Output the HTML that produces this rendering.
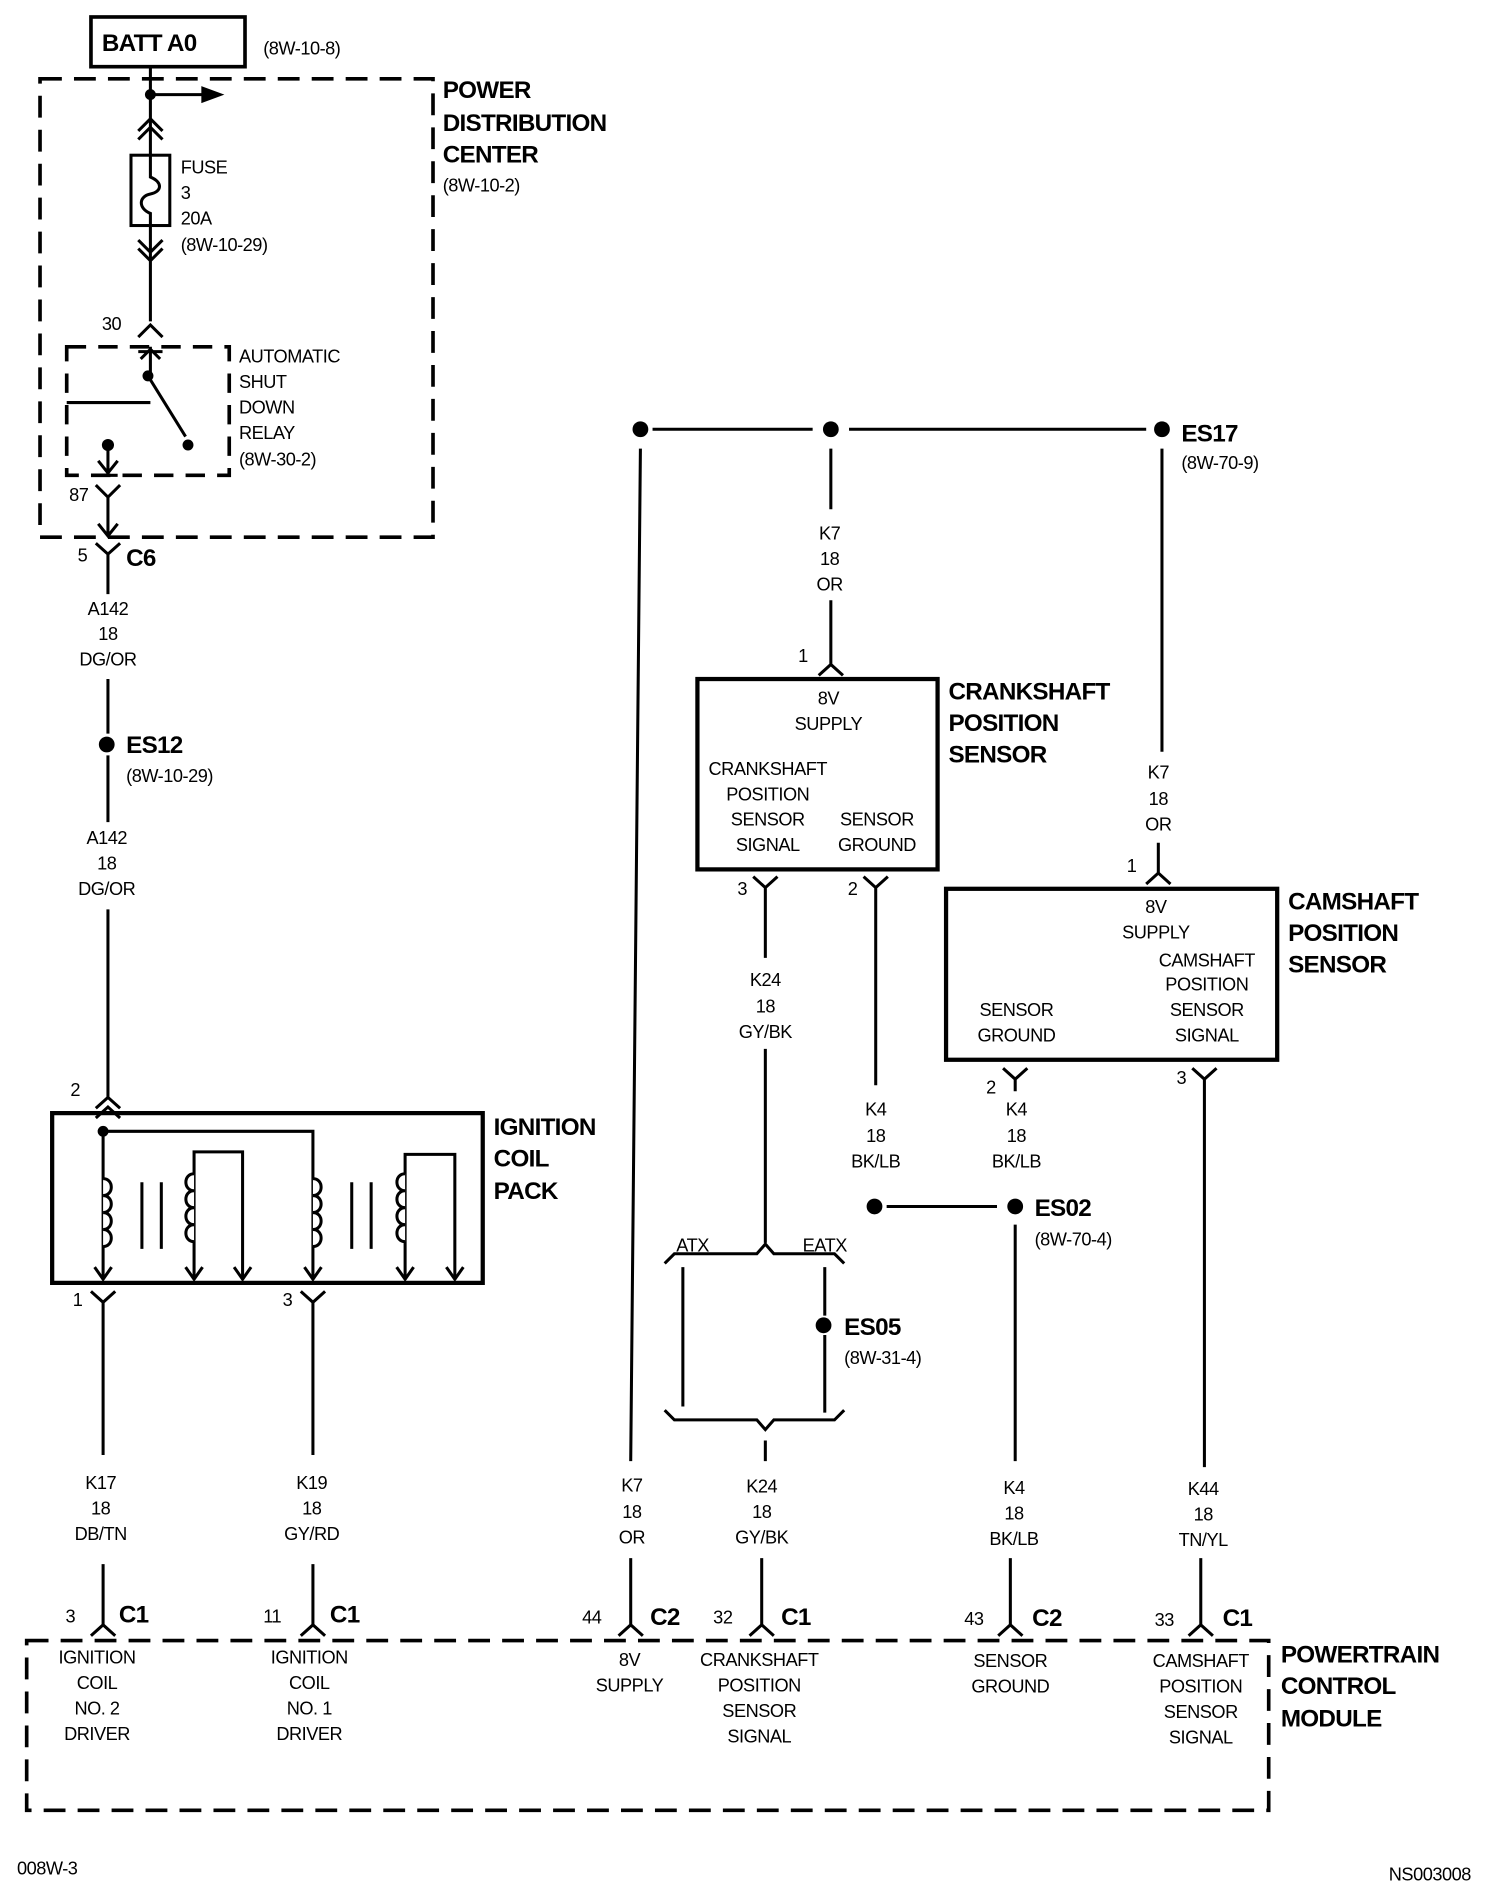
<!DOCTYPE html>
<html><head><meta charset="utf-8"><style>
html,body{margin:0;padding:0;background:#fff}
svg{display:block}
text{font-family:"Liberation Sans Narrow","Liberation Sans",sans-serif;fill:#000}
.t{font-size:15px;letter-spacing:-0.4px}
.c{font-size:15px;text-anchor:middle;letter-spacing:-0.4px}
.b{font-size:20px;font-weight:bold;letter-spacing:-0.6px}
</style></head><body>
<svg width="1504" height="1894" viewBox="0 0 1240 1562" preserveAspectRatio="none" xmlns="http://www.w3.org/2000/svg">
<g fill="none" stroke="#000" stroke-width="2.5">
<rect x="75" y="14" width="127" height="41" stroke-width="3"/>
<rect x="33" y="65" width="324" height="378" stroke-dasharray="18 10" stroke-width="3"/>
<path d="M124 55 V128 M124 78 H170"/>
<path d="M114 108 L124 98 L134 108 M114 115 L124 105 L134 115"/>
<rect x="108" y="128" width="32" height="58"/>
<path d="M124 186 V265 M114 205 L124 215 L134 205 M114 198 L124 208 L134 198"/>
<path d="M124 128 V146 C134 150 134 158 124 160 C114 162 114 172 124 176 V186"/>
<path d="M114 278 L124 268 L134 278"/>
<rect x="55" y="286" width="134" height="106" stroke-dasharray="16 10" stroke-width="3"/>
<path d="M55 332 H124 M124 286 V310 M114 290 H134 M116 296 L124 288 L132 296 M122 310 L153 360"/>
<path d="M89 367 V390 M81 380 L89 390 L97 380 M81 392 H97"/>
<path d="M79 400 L89 410 L99 400 M89 410 V442 M81 432 L89 442 L97 432"/>
<path d="M79 448 L89 457 L99 448 M89 457 V490 M89 560 V605 M89 623 V678 M89 750 V905"/>
<path d="M79 914 L89 905 L99 914 M79 922 L89 913 L99 922"/>
<rect x="43" y="918" width="355" height="140" stroke-width="3.5"/>
<path d="M85 933 H258 V1055 M85 933 V1055"/>
<path d="M78 1045 L85 1055 L92 1045 M153 1045 L160 1055 L167 1045 M193 1045 L200 1055 L207 1045 M251 1045 L258 1055 L265 1045 M327 1045 L334 1055 L341 1045 M368 1045 L375 1055 L382 1045"/>
<path d="M160 1055 V950 H200 V1055 M334 1055 V952 H375 V1055"/>
<path d="M117 975 V1030 M133 975 V1030 M290 975 V1030 M306 975 V1030"/>
</g>
<g fill="#fff" stroke="#000" stroke-width="2.5">
<path d="M85 972 c9 0 9 14 0 14 c9 0 9 14 0 14 c9 0 9 14 0 14 c9 0 9 14 0 14"/>
<path d="M160 968 c-9 0 -9 14 0 14 c-9 0 -9 14 0 14 c-9 0 -9 14 0 14 c-9 0 -9 14 0 14"/>
<path d="M258 972 c9 0 9 14 0 14 c9 0 9 14 0 14 c9 0 9 14 0 14 c9 0 9 14 0 14"/>
<path d="M334 968 c-9 0 -9 14 0 14 c-9 0 -9 14 0 14 c-9 0 -9 14 0 14 c-9 0 -9 14 0 14"/>
</g>
<g fill="#000">
<circle cx="124" cy="78" r="4.5"/><circle cx="122" cy="310" r="4.5"/><circle cx="155" cy="367" r="4.5"/><circle cx="89" cy="367" r="5"/>
<circle cx="88" cy="614" r="6.5"/><circle cx="85" cy="933" r="4.5"/>
<circle cx="528" cy="354" r="6.5"/><circle cx="685" cy="354" r="6.5"/><circle cx="958" cy="354" r="6.5"/>
<circle cx="721" cy="995" r="6.5"/><circle cx="837" cy="995" r="6.5"/><circle cx="679" cy="1093" r="6.5"/>
<path d="M166 71 L185 78 L166 85 Z"/>
</g>
<g fill="none" stroke="#000" stroke-width="2.5">
<path d="M75 1065 L85 1074 L95 1065 M85 1074 V1200 M85 1290 V1340 M75 1349 L85 1340 L95 1349"/>
<path d="M248 1065 L258 1074 L268 1065 M258 1074 V1200 M258 1290 V1340 M248 1349 L258 1340 L268 1349"/>
<rect x="22" y="1353" width="1024" height="140" stroke-dasharray="18 10" stroke-width="3"/>
<path d="M538 354 H670 M700 354 H945"/>
<path d="M528 370 L520 1205 M520 1285 V1340 M510 1349 L520 1340 L530 1349"/>
<path d="M685 370 V420 M685 495 V548 M675 557 L685 548 L695 557"/>
<rect x="575" y="560" width="198" height="157" stroke-width="3.5"/>
<path d="M621 723 L631 732 L641 723 M631 732 V790 M631 865 V1025"/>
<path d="M712 723 L722 732 L732 723 M722 732 V895"/>
<path d="M548 1042 L556 1034 H624 L631 1026 L638 1034 H688 L696 1042"/>
<path d="M563 1045 V1160 M680 1045 V1085 M680 1101 V1165"/>
<path d="M548 1163 L556 1171 H624 L631 1179 L638 1171 H688 L696 1163"/>
<path d="M631 1188 V1205 M628 1285 V1340 M618 1349 L628 1340 L638 1349"/>
<path d="M731 995 H822"/>
<path d="M958 370 V620 M955 695 V720 M945 729 L955 720 L965 729"/>
<rect x="780" y="733" width="273" height="141" stroke-width="3.5"/>
<path d="M827 881 L837 890 L847 881 M837 890 V900 M837 1010 V1205 M833 1285 V1340 M823 1349 L833 1340 L843 1349"/>
<path d="M983 881 L993 890 L1003 881 M993 890 V1210 M990 1285 V1340 M980 1349 L990 1340 L1000 1349"/>
</g>
<text x="84" y="42" class="b">BATT A0</text>
<text x="217" y="45" class="t">(8W-10-8)</text>
<text x="365" y="81" class="b">POWER</text>
<text x="365" y="108" class="b">DISTRIBUTION</text>
<text x="365" y="134" class="b">CENTER</text>
<text x="365" y="158" class="t">(8W-10-2)</text>
<text x="149" y="143" class="t">FUSE</text>
<text x="149" y="164" class="t">3</text>
<text x="149" y="185" class="t">20A</text>
<text x="149" y="207" class="t">(8W-10-29)</text>
<text x="84" y="272" class="t">30</text>
<text x="197" y="299" class="t">AUTOMATIC</text>
<text x="197" y="320" class="t">SHUT</text>
<text x="197" y="341" class="t">DOWN</text>
<text x="197" y="362" class="t">RELAY</text>
<text x="197" y="384" class="t">(8W-30-2)</text>
<text x="57" y="413" class="t">87</text>
<text x="64" y="463" class="t">5</text>
<text x="104" y="467" class="b">C6</text>
<text x="89" y="507" class="c">A142</text><text x="89" y="528" class="c">18</text><text x="89" y="549" class="c">DG/OR</text>
<text x="104" y="621" class="b">ES12</text>
<text x="104" y="645" class="t">(8W-10-29)</text>
<text x="88" y="696" class="c">A142</text><text x="88" y="717" class="c">18</text><text x="88" y="738" class="c">DG/OR</text>
<text x="58" y="904" class="t">2</text>
<text x="407" y="936" class="b">IGNITION</text>
<text x="407" y="962" class="b">COIL</text>
<text x="407" y="989" class="b">PACK</text>
<text x="60" y="1077" class="t">1</text>
<text x="233" y="1077" class="t">3</text>
<text x="83" y="1228" class="c">K17</text><text x="83" y="1249" class="c">18</text><text x="83" y="1270" class="c">DB/TN</text>
<text x="257" y="1228" class="c">K19</text><text x="257" y="1249" class="c">18</text><text x="257" y="1270" class="c">GY/RD</text>
<text x="54" y="1338" class="t">3</text><text x="98" y="1338" class="b">C1</text>
<text x="217" y="1338" class="t">11</text><text x="272" y="1338" class="b">C1</text>
<text x="480" y="1339" class="t">44</text><text x="536" y="1340" class="b">C2</text>
<text x="588" y="1339" class="t">32</text><text x="644" y="1340" class="b">C1</text>
<text x="795" y="1340" class="t">43</text><text x="851" y="1341" class="b">C2</text>
<text x="952" y="1341" class="t">33</text><text x="1008" y="1341" class="b">C1</text>
<text x="1056" y="1371" class="b">POWERTRAIN</text>
<text x="1056" y="1397" class="b">CONTROL</text>
<text x="1056" y="1424" class="b">MODULE</text>
<text x="80" y="1372" class="c">IGNITION</text><text x="80" y="1393" class="c">COIL</text><text x="80" y="1414" class="c">NO. 2</text><text x="80" y="1435" class="c">DRIVER</text>
<text x="255" y="1372" class="c">IGNITION</text><text x="255" y="1393" class="c">COIL</text><text x="255" y="1414" class="c">NO. 1</text><text x="255" y="1435" class="c">DRIVER</text>
<text x="519" y="1374" class="c">8V</text><text x="519" y="1395" class="c">SUPPLY</text>
<text x="626" y="1374" class="c">CRANKSHAFT</text><text x="626" y="1395" class="c">POSITION</text><text x="626" y="1416" class="c">SENSOR</text><text x="626" y="1437" class="c">SIGNAL</text>
<text x="833" y="1375" class="c">SENSOR</text><text x="833" y="1396" class="c">GROUND</text>
<text x="990" y="1375" class="c">CAMSHAFT</text><text x="990" y="1396" class="c">POSITION</text><text x="990" y="1417" class="c">SENSOR</text><text x="990" y="1438" class="c">SIGNAL</text>
<text x="974" y="364" class="b">ES17</text>
<text x="974" y="387" class="t">(8W-70-9)</text>
<text x="684" y="445" class="c">K7</text><text x="684" y="466" class="c">18</text><text x="684" y="487" class="c">OR</text>
<text x="658" y="546" class="t">1</text>
<text x="683" y="581" class="c">8V</text><text x="683" y="602" class="c">SUPPLY</text>
<text x="633" y="639" class="c">CRANKSHAFT</text><text x="633" y="660" class="c">POSITION</text><text x="633" y="681" class="c">SENSOR</text><text x="633" y="702" class="c">SIGNAL</text>
<text x="723" y="681" class="c">SENSOR</text><text x="723" y="702" class="c">GROUND</text>
<text x="782" y="577" class="b">CRANKSHAFT</text>
<text x="782" y="603" class="b">POSITION</text>
<text x="782" y="629" class="b">SENSOR</text>
<text x="608" y="738" class="t">3</text><text x="699" y="738" class="t">2</text>
<text x="631" y="813" class="c">K24</text><text x="631" y="835" class="c">18</text><text x="631" y="856" class="c">GY/BK</text>
<text x="722" y="920" class="c">K4</text><text x="722" y="942" class="c">18</text><text x="722" y="963" class="c">BK/LB</text>
<text x="838" y="920" class="c">K4</text><text x="838" y="942" class="c">18</text><text x="838" y="963" class="c">BK/LB</text>
<text x="853" y="1003" class="b">ES02</text>
<text x="853" y="1027" class="t">(8W-70-4)</text>
<text x="571" y="1032" class="c">ATX</text><text x="680" y="1032" class="c">EATX</text>
<text x="696" y="1101" class="b">ES05</text>
<text x="696" y="1125" class="t">(8W-31-4)</text>
<text x="955" y="642" class="c">K7</text><text x="955" y="664" class="c">18</text><text x="955" y="685" class="c">OR</text>
<text x="929" y="719" class="t">1</text>
<text x="953" y="753" class="c">8V</text><text x="953" y="774" class="c">SUPPLY</text>
<text x="995" y="797" class="c">CAMSHAFT</text><text x="995" y="817" class="c">POSITION</text><text x="995" y="838" class="c">SENSOR</text><text x="995" y="859" class="c">SIGNAL</text>
<text x="838" y="838" class="c">SENSOR</text><text x="838" y="859" class="c">GROUND</text>
<text x="1062" y="750" class="b">CAMSHAFT</text>
<text x="1062" y="776" class="b">POSITION</text>
<text x="1062" y="802" class="b">SENSOR</text>
<text x="813" y="902" class="t">2</text><text x="970" y="894" class="t">3</text>
<text x="521" y="1230" class="c">K7</text><text x="521" y="1252" class="c">18</text><text x="521" y="1273" class="c">OR</text>
<text x="628" y="1231" class="c">K24</text><text x="628" y="1252" class="c">18</text><text x="628" y="1273" class="c">GY/BK</text>
<text x="836" y="1232" class="c">K4</text><text x="836" y="1253" class="c">18</text><text x="836" y="1274" class="c">BK/LB</text>
<text x="992" y="1233" class="c">K44</text><text x="992" y="1254" class="c">18</text><text x="992" y="1275" class="c">TN/YL</text>
<text x="14" y="1546" class="t">008W-3</text>
<text x="1145" y="1551" class="t">NS003008</text>
</svg>
</body></html>
